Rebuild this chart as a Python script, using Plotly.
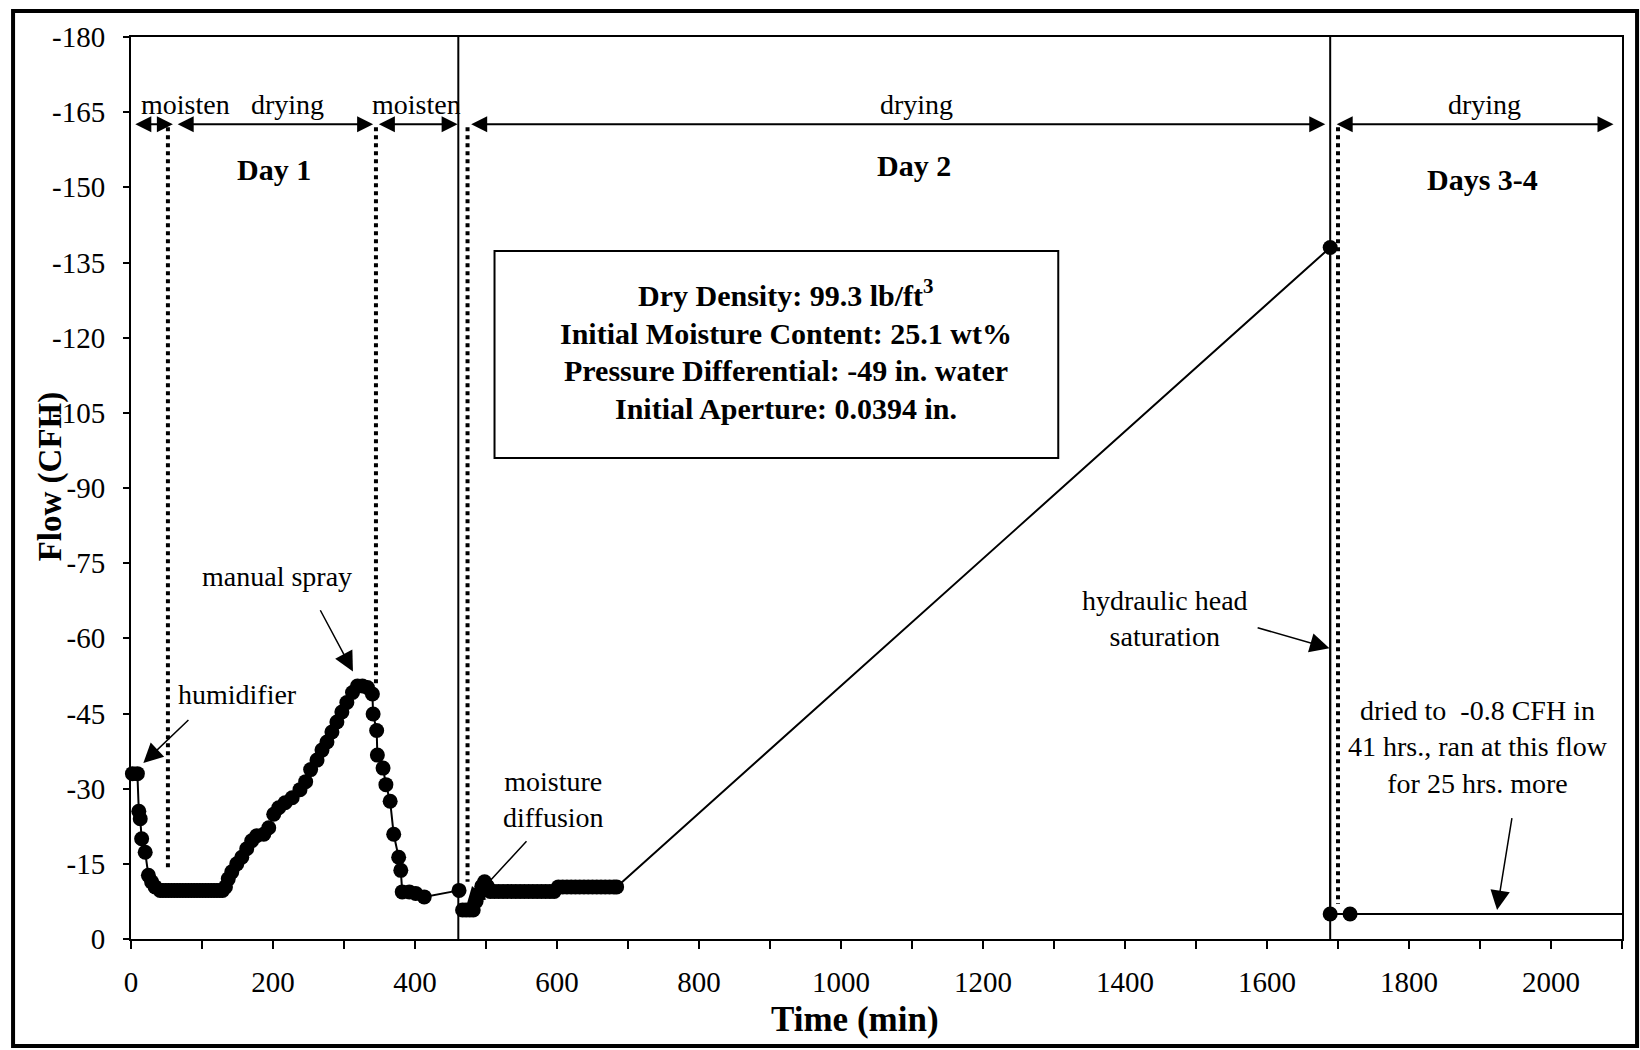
import plotly.graph_objects as go

FONT = "Liberation Serif"

# ---------------- data ----------------
t_day1 = [2, 9, 11, 13, 15, 20, 24.5, 29, 34, 41,
          45, 49, 53, 57, 61, 65, 69, 73, 77, 81, 85, 89, 93, 97, 101, 105, 109, 113, 117, 121, 125, 129,
          133, 137, 142, 149, 156, 163, 170, 177, 187, 194, 201, 208, 217, 227, 238, 246, 253, 262,
          269, 276, 283, 290, 297, 304, 312, 319, 326, 333, 340, 341, 346, 347, 355, 359, 365, 370,
          377, 380, 382, 392, 401, 413, 462]
f_day1 = [-33, -33, -25.5, -24, -20, -17.3, -12.7, -11.4, -10.4, -9.7,
          -9.7, -9.7, -9.7, -9.7, -9.7, -9.7, -9.7, -9.7, -9.7, -9.7, -9.7, -9.7, -9.7, -9.7, -9.7, -9.7,
          -9.7, -9.7, -9.7, -9.7, -9.7, -9.7,
          -10.4, -12, -13.4, -15, -16.3, -18, -19.6, -20.6, -20.9, -22.2, -24.9, -26.2, -27.2, -28.2,
          -29.8, -31.4, -33.8, -35.7, -37.7, -39.3, -41.3, -43.3, -45.3, -47.2, -49.2, -50.5, -50.5,
          -50.2, -48.9, -44.9, -41.6, -36.7, -34.1, -30.8, -27.5, -20.9, -16.3, -13.7, -9.4, -9.4,
          -9.1, -8.4, -9.7]

t_day2 = [467, 472, 477, 482, 486, 490, 494, 498, 502, 506,
          512, 518, 524, 530, 536, 542, 548, 554, 560, 566, 572, 578, 584, 590, 596,
          602, 608, 614, 620, 626, 632, 638, 644, 650, 656, 662, 668, 674, 680, 684,
          1689]
f_day2 = [-5.8, -5.8, -5.8, -5.8, -7.5, -9.0, -10.5, -11.4, -10.5, -9.5,
          -9.5, -9.5, -9.5, -9.5, -9.5, -9.5, -9.5, -9.5, -9.5, -9.5, -9.5, -9.5, -9.5, -9.5, -9.5,
          -10.4, -10.4, -10.4, -10.4, -10.4, -10.4, -10.4, -10.4, -10.4, -10.4, -10.4, -10.4, -10.4,
          -10.4, -10.4,
          -138]

# days 3-4: measured points and the flow line running on to the right edge
t_day34 = [1689, 1717]
f_day34 = [-5, -5]
t_day34_line = [1689, 1689, 1717, 2100]
f_day34_line = [-138, -5, -5, -5]

x_ticks = list(range(0, 2101, 100))
x_labels = [str(v) if v % 200 == 0 and v <= 2000 else "" for v in x_ticks]
y_ticks = list(range(-180, 1, 15))
y_labels = ["-" + str(-v) if v < 0 else "0" for v in y_ticks]

solid_dividers = [461, 1689]
dotted_t = [52, 345, 474, 1700]
dotted_bottom = [-13.5, -51, -11.4, -7]

# phase arrows
phase_start = [4, 63.6, 347, 477, 1696]
phase_end = [59, 341, 460, 1682, 2088]
phase_label = ["moisten", "drying", "moisten", "drying", "drying"]
phase_label_x = [77, 221, 402, 1107, 1907]

day_label = ["<b>Day 1</b>", "<b>Day 2</b>", "<b>Days 3-4</b>"]
day_x = [201, 1103, 1904]
day_y = [-153.5, -154.3, -151.5]

info_lines = ["<b>Dry Density: 99.3 lb/ft<sup>3</sup></b>",
              "<b>Initial Moisture Content: 25.1 wt%</b>",
              "<b>Pressure Differential: -49 in. water</b>",
              "<b>Initial Aperture: 0.0394 in.</b>"]
info_y = [-129, -120.8, -113.4, -105.8]

# ---------------- figure ----------------
fig = go.Figure()

line_style = dict(color="black", width=2)
mk = dict(color="black", size=15)
fig.add_trace(go.Scatter(x=t_day1, y=f_day1, mode="lines+markers", line=line_style,
                         marker=mk, showlegend=False, cliponaxis=False))
fig.add_trace(go.Scatter(x=t_day2, y=f_day2, mode="lines+markers", line=line_style,
                         marker=mk, showlegend=False, cliponaxis=False))
fig.add_trace(go.Scatter(x=t_day34_line, y=f_day34_line, mode="lines", line=line_style,
                         showlegend=False))
fig.add_trace(go.Scatter(x=t_day34, y=f_day34, mode="markers", marker=mk,
                         showlegend=False, cliponaxis=False))

shapes = []
for t in solid_dividers:
    shapes.append(dict(type="line", xref="x", yref="y", x0=t, x1=t, y0=0, y1=-180,
                       line=dict(color="black", width=2)))
for t, yb in zip(dotted_t, dotted_bottom):
    shapes.append(dict(type="line", xref="x", yref="y", x0=t, x1=t, y0=-162, y1=yb,
                       line=dict(color="black", width=4, dash="4px,4px")))
# info box
shapes.append(dict(type="rect", xref="x", yref="y", x0=512, x1=1306, y0=-137.3, y1=-96,
                   line=dict(color="black", width=2), fillcolor="white", layer="below"))
# outer frame
shapes.append(dict(type="rect", xref="paper", yref="paper", x0=-0.0791, x1=1.0101,
                   y0=-0.1186, y1=1.0288, line=dict(color="black", width=4)))
fig.update_layout(shapes=shapes)

ann = []
tf = dict(family=FONT, size=28, color="black")
for s, e, lab, lx in zip(phase_start, phase_end, phase_label, phase_label_x):
    ann.append(dict(x=e, y=-162.6, ax=s, ay=-162.6, xref="x", yref="y", axref="x", ayref="y",
                    text="", showarrow=True, arrowhead=2, startarrowhead=2, arrowside="end+start",
                    arrowsize=1.6, startarrowsize=1.6, arrowwidth=2, arrowcolor="black",
                    standoff=0, startstandoff=0))
    ann.append(dict(x=lx, y=-166.6, xref="x", yref="y", text=lab, showarrow=False, font=tf,
                    xanchor="center", yanchor="middle"))
for lab, dx, dy in zip(day_label, day_x, day_y):
    ann.append(dict(x=dx, y=dy, xref="x", yref="y", text=lab, showarrow=False,
                    font=dict(family=FONT, size=30, color="black")))

for line, ly in zip(info_lines, info_y):
    ann.append(dict(x=922, y=ly, xref="x", yref="y", showarrow=False, text=line,
                    xanchor="center", yanchor="middle",
                    font=dict(family=FONT, size=30, color="black")))

# callout texts
texts = ["manual spray", "humidifier", "moisture<br>diffusion", "hydraulic head<br>saturation",
         "dried to  -0.8 CFH in<br>41 hrs., ran at this flow<br>for 25 hrs. more"]
text_x = [205.5, 150, 594.6, 1457, 1897]
text_y = [-72.4, -48.8, -27.9, -64, -38.4]
for tx, x, y in zip(texts, text_x, text_y):
    ann.append(dict(x=x, y=y, xref="x", yref="y", text=tx, showarrow=False, font=tf, align="center"))

# callout arrows: (tail) -> (head)
tail_x = [265.5, 83, 559, 1584.7, 1945.3]
tail_y = [-65.9, -44, -19.8, -62.2, -24.4]
head_x = [312.6, 17.4, 471.8, 1688, 1924]
head_y = [-53.4, -35.1, -6.4, -58, -5.8]
for txx, tyy, hx, hy in zip(tail_x, tail_y, head_x, head_y):
    ann.append(dict(x=hx, y=hy, ax=txx, ay=tyy, xref="x", yref="y", axref="x", ayref="y",
                    text="", showarrow=True, arrowhead=2, arrowsize=2.6, arrowwidth=1.5,
                    arrowcolor="black", standoff=0, startstandoff=0))

# axis titles
ann.append(dict(x=-0.0543, y=0.513, xref="paper", yref="paper", text="<b>Flow (CFH)</b>",
                textangle=-90, showarrow=False, xanchor="center", yanchor="middle",
                font=dict(family=FONT, size=33, color="black")))
ann.append(dict(x=0.4856, y=-0.0898, xref="paper", yref="paper", text="<b>Time (min)</b>",
                showarrow=False, xanchor="center", yanchor="middle",
                font=dict(family=FONT, size=35, color="black")))
fig.update_layout(annotations=ann)

fig.update_xaxes(range=[0, 2100], tickvals=x_ticks, ticktext=x_labels, ticks="outside", ticklen=8,
                 tickwidth=2, tickcolor="black", showline=True, linecolor="black", linewidth=2,
                 mirror=True, showgrid=False, zeroline=False, ticklabelstandoff=8,
                 tickfont=dict(family=FONT, size=29, color="black"))
fig.update_yaxes(range=[0, -180], tickvals=y_ticks, ticktext=y_labels, ticks="outside", ticklen=6,
                 tickwidth=2, tickcolor="black", showline=True, linecolor="black", linewidth=2,
                 mirror=True, showgrid=False, zeroline=False, ticklabelstandoff=12,
                 tickfont=dict(family=FONT, size=29, color="black"))

fig.update_layout(width=1640, height=1050, margin=dict(l=131, r=18, t=37, b=111),
                  paper_bgcolor="white", plot_bgcolor="white", showlegend=False)

fig.write_html("out.html")
